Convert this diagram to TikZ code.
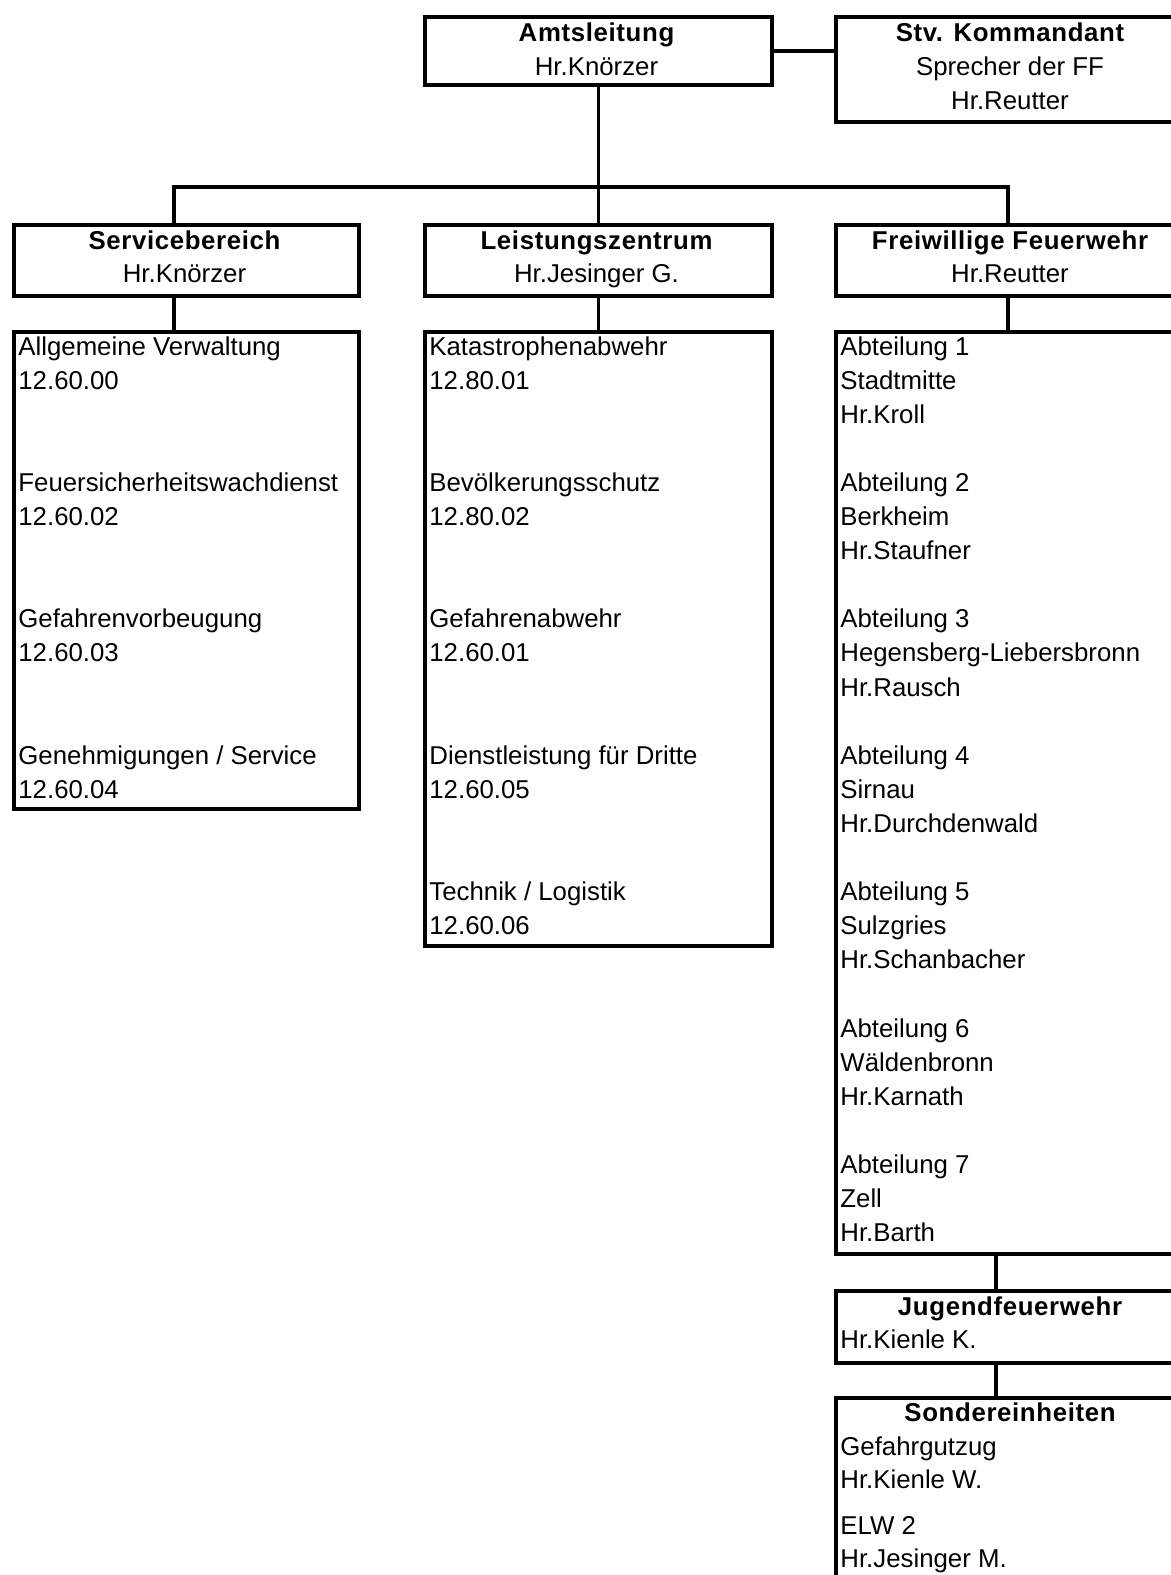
\documentclass[tikz,border=0pt]{standalone}
\usepackage{fontspec}
\setmainfont{Liberation Sans}
\newfontfamily\ttlfont[LetterSpace=2.5]{Liberation Sans}
\begin{document}
\begin{tikzpicture}[x=0.5pt,y=-0.5pt,
  box/.style={draw, line width=1.9pt, rectangle, inner sep=0pt, anchor=north west},
  conn/.style={line width=1.9pt},
  ttl/.style={anchor=base, inner sep=0pt, font=\fontsize{12.9pt}{17pt}\ttlfont\bfseries},
  sub/.style={anchor=base, inner sep=0pt, font=\fontsize{12.9pt}{17pt}\selectfont},
  itm/.style={anchor=base west, inner sep=0pt, font=\fontsize{12.9pt}{17pt}\selectfont}]
\useasboundingbox (0,0) rectangle (1171,1575);
\clip (0,0) rectangle (1171,1575);
% boxes
\node[box, minimum width=347*0.5pt, minimum height=68*0.5pt]  (amt)  at (423,15) {};
\node[box, minimum width=352*0.5pt, minimum height=105*0.5pt] (stv)  at (834,15) {};
\node[box, minimum width=345*0.5pt, minimum height=71*0.5pt]  (svc)  at (12,223) {};
\node[box, minimum width=347*0.5pt, minimum height=71*0.5pt]  (lst)  at (423,223) {};
\node[box, minimum width=352*0.5pt, minimum height=71*0.5pt]  (ffw)  at (834,223) {};
\node[box, minimum width=345*0.5pt, minimum height=477*0.5pt] (svcl) at (12,330) {};
\node[box, minimum width=347*0.5pt, minimum height=614*0.5pt] (lstl) at (423,330) {};
\node[box, minimum width=352*0.5pt, minimum height=922*0.5pt] (ffwl) at (834,330) {};
\node[box, minimum width=352*0.5pt, minimum height=72*0.5pt]  (jug)  at (834,1289) {};
\node[box, minimum width=352*0.5pt, minimum height=230*0.5pt] (son)  at (834,1396) {};
% connectors
\coordinate (busL) at (174,187);
\coordinate (busR) at (1008,187);
\coordinate (jx) at (996,0);
\draw[conn] (amt.east) -- (amt.east -| stv.west);
\draw[conn] (amt.south) -- (lst.north);
\draw[conn] (svc.north -| busL) -- (busL) -- (busR) -- (ffw.north -| busR);
\draw[conn] (svc.south -| busL) -- (svcl.north -| busL);
\draw[conn] (lst.south) -- (lstl.north);
\draw[conn] (ffw.south -| busR) -- (ffwl.north -| busR);
\draw[conn] (ffwl.south -| jx) -- (jug.north -| jx);
\draw[conn] (jug.south -| jx) -- (son.north -| jx);
% titles
\node[ttl] (amt-t) at (596.5,41) {Amtsleitung};
\node[sub] (amt-s) at (596.5,75) {Hr.Knörzer};
\node[ttl] (stv-t) at (1010,41) {Stv. Kommandant};
\node[sub] (stv-s) at (1010,75) {Sprecher der FF};
\node[sub] (stv-r) at (1010,109) {Hr.Reutter};
\node[ttl] (svc-t) at (184.5,249) {Servicebereich};
\node[sub] (svc-s) at (184.5,282) {Hr.Knörzer};
\node[ttl] (lst-t) at (596.5,249) {Leistungszentrum};
\node[sub] (lst-s) at (596.5,282) {Hr.Jesinger G.};
\node[ttl] (ffw-t) at (1010,249) {Freiwillige Feuerwehr};
\node[sub] (ffw-s) at (1010,282) {Hr.Reutter};
% lists
\foreach \k/\t in {0/{Allgemeine Verwaltung}, 1/{12.60.00}, 4/{Feuersicherheitswachdienst}, 5/{12.60.02},
  8/{Gefahrenvorbeugung}, 9/{12.60.03}, 12/{Genehmigungen / Service}, 13/{12.60.04}}
  \node[itm, name=svcl-\k] at (18,355+\k*34.1) {\t};
\foreach \k/\t in {0/{Katastrophenabwehr}, 1/{12.80.01}, 4/{Bevölkerungsschutz}, 5/{12.80.02},
  8/{Gefahrenabwehr}, 9/{12.60.01}, 12/{Dienstleistung für Dritte}, 13/{12.60.05},
  16/{Technik / Logistik}, 17/{12.60.06}}
  \node[itm, name=lstl-\k] at (429,355+\k*34.1) {\t};
\foreach \k/\t in {0/{Abteilung 1}, 1/{Stadtmitte}, 2/{Hr.Kroll},
  4/{Abteilung 2}, 5/{Berkheim}, 6/{Hr.Staufner},
  8/{Abteilung 3}, 9/{Hegensberg-Liebersbronn}, 10/{Hr.Rausch},
  12/{Abteilung 4}, 13/{Sirnau}, 14/{Hr.Durchdenwald},
  16/{Abteilung 5}, 17/{Sulzgries}, 18/{Hr.Schanbacher},
  20/{Abteilung 6}, 21/{Wäldenbronn}, 22/{Hr.Karnath},
  24/{Abteilung 7}, 25/{Zell}, 26/{Hr.Barth}}
  \node[itm, name=ffwl-\k] at (840,355+\k*34.1) {\t};
% Jugendfeuerwehr
\node[ttl] (jug-t) at (1010,1315) {Jugendfeuerwehr};
\node[itm] (jug-s) at (840,1348) {Hr.Kienle K.};
% Sondereinheiten
\node[ttl] (son-t) at (1010,1421) {Sondereinheiten};
\node[itm] (son-1) at (840,1455) {Gefahrgutzug};
\node[itm] (son-2) at (840,1488) {Hr.Kienle W.};
\node[itm] (son-3) at (840,1534) {ELW 2};
\node[itm] (son-4) at (840,1567) {Hr.Jesinger M.};
\end{tikzpicture}
\end{document}
